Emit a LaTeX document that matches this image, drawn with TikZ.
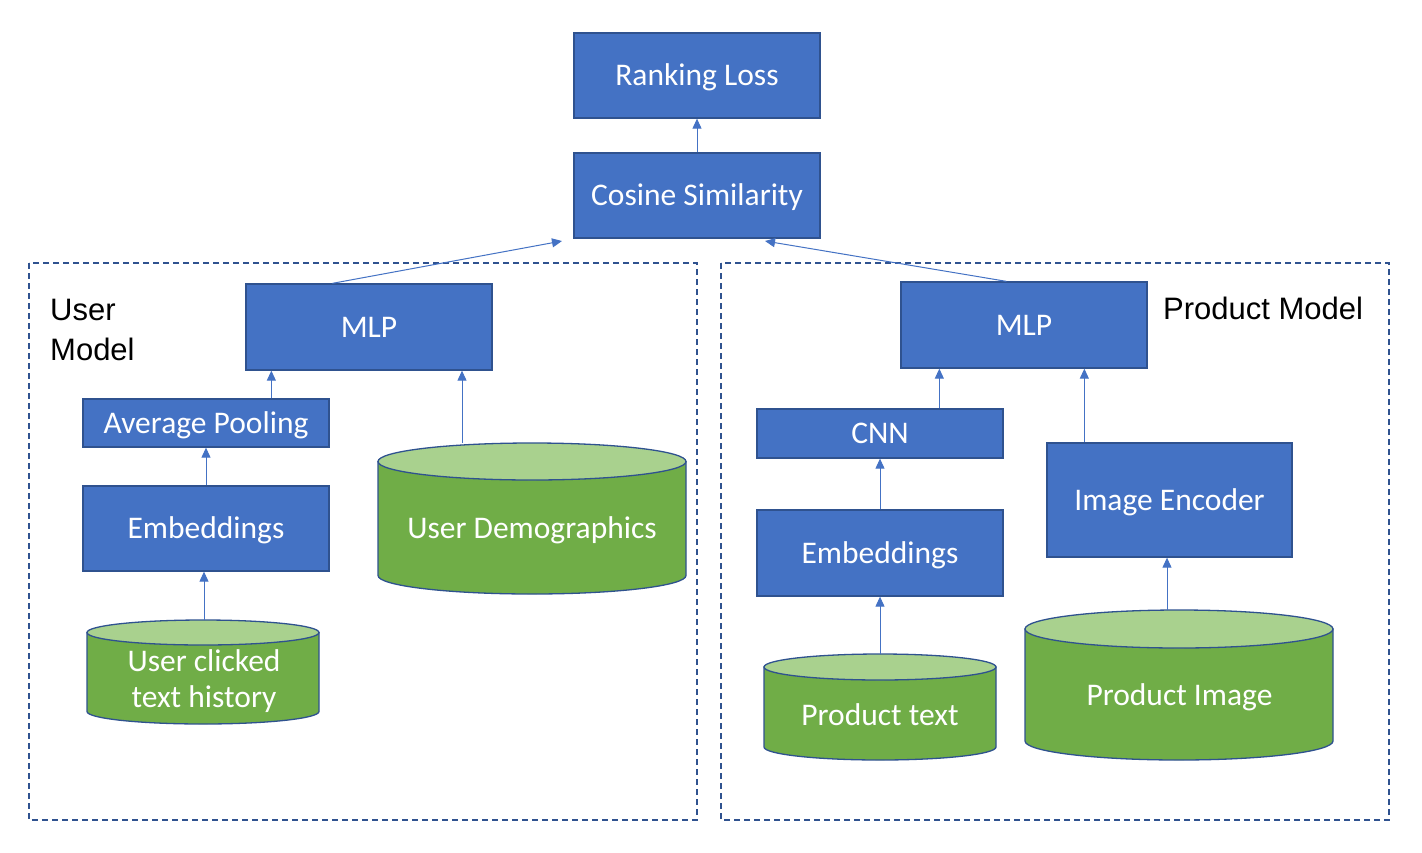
\documentclass[tikz,border=0pt]{standalone}
\usepackage{fontspec}
\setmainfont{Carlito}
\newfontfamily\arialfont{Liberation Sans}
\usetikzlibrary{arrows.meta}
\definecolor{boxblue}{HTML}{4472C4}
\definecolor{edgeblue}{HTML}{2F528F}
\definecolor{cylgreen}{HTML}{70AD47}
\definecolor{cyltop}{HTML}{A9D18E}
\tikzset{
 bluebox/.style={draw=edgeblue, line width=1.3pt, fill=boxblue, text=white, font=\fontsize{31.5}{37}\selectfont, inner sep=0pt, text height=20pt, text depth=0pt},
 conn/.style={draw=boxblue, line width=1pt, -{Triangle[length=10pt,width=9pt]}},
 region/.style={draw=edgeblue, line width=1.5pt, dash pattern=on 6pt off 4pt},
 lbl/.style={font=\arialfont\fontsize{31}{40}\selectfont, text=black, inner sep=0pt},
 cyltext/.style={text=white, font=\fontsize{31.5}{36}\selectfont, align=center, inner sep=0pt},
 cylbody/.style={fill=cylgreen, draw=edgeblue, line width=1.3pt},
 cyltopst/.style={fill=cyltop, draw=edgeblue, line width=1.3pt},
}
% #1 cx, #2 ytop, #3 ybot, #4 rx, #5 ry
\newcommand\dbcyl[5]{%
 \path[cylbody] ({#1-#4},{#2+#5}) -- ({#1-#4},{#3-#5})
   arc[start angle=180,end angle=360,x radius=#4 pt,y radius=#5 pt] -- ({#1+#4},{#2+#5}) -- cycle;
 \path[cyltopst] (#1,{#2+#5}) ellipse[x radius=#4 pt, y radius=#5 pt];
}
\begin{document}
\begin{tikzpicture}[x=1pt,y=-1pt]
\path[use as bounding box, fill=white] (0,0) rectangle (1422,852);

% regions
\draw[region] (29,263) rectangle (697,820);
\draw[region] (721,263) rectangle (1389,820);

% top
\node[bluebox, minimum width=246pt, minimum height=85pt] (rank) at (697,75.5) {Ranking Loss};
\node[bluebox, minimum width=246pt, minimum height=85pt] (cos) at (697,195.5) {Cosine Similarity};
\coordinate (cosL) at (562,241);
\coordinate (cosR) at (765,241);

% user model
\node[lbl, align=left, anchor=north west] (ulbl) at (50,299) {User\\Model};
\node[bluebox, minimum width=246pt, minimum height=86pt] (umlp) at (369,327) {MLP};
\node[bluebox, minimum width=246pt, minimum height=48pt] (uap) at (206,423) {Average Pooling};
\node[bluebox, minimum width=246pt, minimum height=85pt] (uemb) at (206,528.5) {Embeddings};

\dbcyl{203}{620}{724}{116}{12.5}
\coordinate (uctop) at (204,620);
\node[cyltext] (uct) at (204,681) {User clicked\\text history};

\dbcyl{532}{443}{594}{154}{18.5}
\coordinate (udtop) at (462,443);
\node[cyltext, anchor=base] (udem) at (532,538) {User Demographics};

% product model
\node[lbl, anchor=north west] (plbl) at (1163,297) {Product Model};
\node[bluebox, minimum width=246pt, minimum height=86pt] (pmlp) at (1024,325) {MLP};
\node[bluebox, minimum width=246pt, minimum height=49pt] (cnn) at (880,433.5) {CNN};
\node[bluebox, minimum width=246pt, minimum height=86pt] (pemb) at (880,553) {Embeddings};
\node[bluebox, minimum width=245pt, minimum height=114pt] (ienc) at (1169.5,500) {Image Encoder};

\dbcyl{880}{654}{760}{116}{13}
\coordinate (pttop) at (880,654);
\node[cyltext, anchor=base] (ptxt) at (880,725) {Product text};

\dbcyl{1179}{610}{760}{154}{19}
\coordinate (pitop) at (1167,610);
\node[cyltext, anchor=base] (pimg) at (1179.5,705) {Product Image};

% connectors
\draw[conn] (cos.north) -- (rank.south);
\draw[conn] ([xshift=87pt]umlp.north west) -- (cosL);
\draw[conn] ([xshift=106pt]pmlp.north west) -- (cosR);
\draw[conn] ([xshift=189pt]uap.north west) -- ([xshift=189pt]uap.north west |- umlp.south);
\draw[conn] (udtop) -- (udtop |- umlp.south);
\draw[conn] (uemb.north) -- (uap.south);
\draw[conn] (uctop) -- (uctop |- uemb.south);
\draw[conn] ([xshift=183pt]cnn.north west) -- ([xshift=183pt]cnn.north west |- pmlp.south);
\draw[conn] (pemb.north) -- (cnn.south);
\draw[conn] (pttop) -- (pttop |- pemb.south);
\draw[conn] ([xshift=38pt]ienc.north west) -- ([xshift=38pt]ienc.north west |- pmlp.south);
\draw[conn] (pitop) -- (pitop |- ienc.south);
\end{tikzpicture}
\end{document}
